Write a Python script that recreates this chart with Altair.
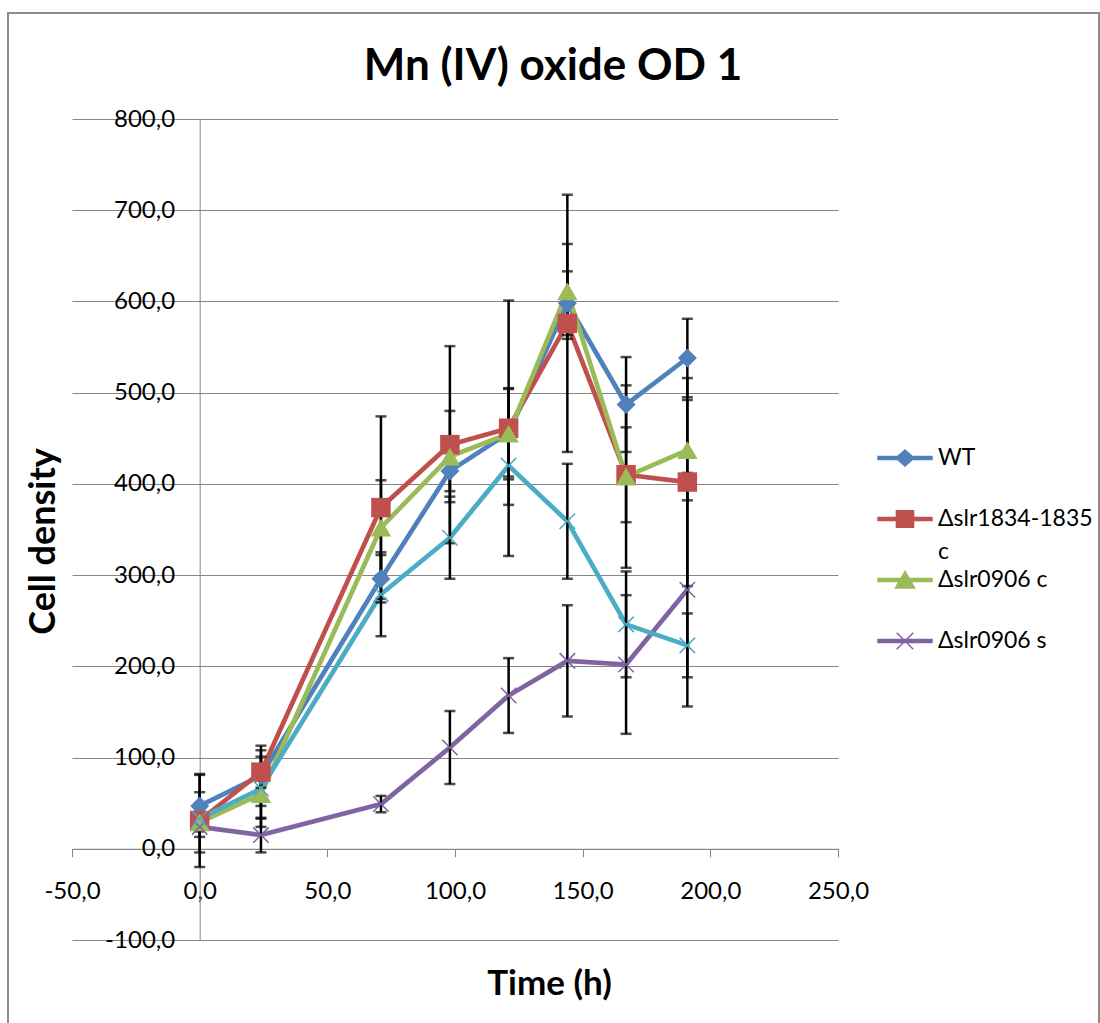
import altair as alt
import pandas as pd

# ---------------- data ----------------
times = [0, 24, 71, 98, 121, 144, 167, 191]

series_names = ["WT", "Δslr1834-1835 c", "Δslr0906 c", "Δslr0906 s", "Δslr1834-1835 s"]
series_colors = ["#4F81BD", "#C0504D", "#9BBB59", "#8064A2", "#4BACC6"]

wt_values = [47, 80, 296, 414, 456, 598, 487, 538]
wt_errors = [34, 33, 26, 22, 48, 35, 52, 43]

d1834c_values = [31, 84, 374, 443, 461, 576, 410, 402]
d1834c_errors = [51, 17, 100, 108, 140, 141, 52, 114]

d0906c_values = [29, 60, 352, 430, 455, 611, 408, 437]
d0906c_errors = [33, 27, 52, 50, 50, 52, 100, 55]

d0906s_values = [24, 15, 49, 111, 168, 206, 202, 284]
d0906s_errors = [5, 19, 9, 40, 41, 61, 76, 128]

d1834s_values = [33, 66, 279, 341, 420, 359, 246, 223]
d1834s_errors = [10, 42, 46, 45, 43, 63, 58, 35]

x_ticks = [-50, 0, 50, 100, 150, 200, 250]
y_ticks = [-100, 0, 100, 200, 300, 400, 500, 600, 700, 800]

legend_names = series_names[:4]
legend_colors = series_colors[:4]

# ---------------- table ----------------
all_values = [wt_values, d1834c_values, d0906c_values, d0906s_values, d1834s_values]
all_errors = [wt_errors, d1834c_errors, d0906c_errors, d0906s_errors, d1834s_errors]
rows = []
for name, vals, errs in zip(series_names, all_values, all_errors):
    for t, v, e in zip(times, vals, errs):
        rows.append({"series": name, "time": t, "value": v, "lo": v - e, "hi": v + e})
df = pd.DataFrame(rows)

# ---------------- styling ----------------
FONT = "Lato"
GRID = "#868686"
W, H = 766, 821
label_expr = "(datum.value < 0 ? '-' : '') + replace(format(abs(datum.value), '.1f'), '.', ',')"

x_scale = alt.Scale(domain=[-50, 250], nice=False, zero=False)
y_scale = alt.Scale(domain=[-100, 800], nice=False, zero=False)

x_axis = alt.Axis(
    values=x_ticks, labelExpr=label_expr, offset=-H * 100 / 900,
    domainColor=GRID, domainWidth=1, tickColor=GRID, tickWidth=1, tickSize=8,
    labelPadding=23, labelFont=FONT, labelFontSize=24, labelColor="black",
    labelFlush=False, labelOverlap=False, grid=False,
    title="Time (h)", titleFont=FONT, titleFontSize=35, titleFontWeight="bold",
    titleColor="black", titleX=477, titleY=146, titleAlign="center",
    titleBaseline="alphabetic",
)
y_axis = alt.Axis(
    values=y_ticks, labelExpr=label_expr, offset=-W * 50 / 300,
    domainColor=GRID, domainWidth=1, tickColor=GRID, tickWidth=1, tickSize=6,
    labelPadding=19, labelFont=FONT, labelFontSize=24, labelColor="black",
    labelFlush=False, labelOverlap=False,
    grid=True, gridColor=GRID, gridWidth=1,
    title="Cell density", titleFont=FONT, titleFontSize=36, titleFontWeight="bold",
    titleColor="black", titleX=-145, titleY=422, titleAngle=270, titleAlign="center",
    titleBaseline="alphabetic",
)

X = alt.X("time:Q", scale=x_scale, axis=x_axis)

base = alt.Chart(df)
layers = []

# lines
for name, col in zip(series_names, series_colors):
    layers.append(
        base.transform_filter(alt.datum.series == name)
        .mark_line(color=col, strokeWidth=4.7, strokeJoin="round", strokeCap="round")
        .encode(x=X, y=alt.Y("value:Q", scale=y_scale, axis=y_axis), order="time:Q")
    )

# error bars
layers.append(
    base.mark_rule(color="black", strokeWidth=2.5).encode(
        x=X, y=alt.Y("lo:Q", scale=y_scale, axis=y_axis), y2="hi:Q"
    )
)
for fld in ["hi", "lo"]:
    layers.append(
        base.mark_tick(color="black", orient="horizontal", size=11, thickness=2.5).encode(
            x=X, y=alt.Y(f"{fld}:Q", scale=y_scale, axis=y_axis)
        )
    )

# markers
X_PATH = "M-1,-1L1,1M-1,1L1,-1"
marker_specs = {
    "WT": dict(shape="diamond", size=361, filled=True),
    "Δslr1834-1835 c": dict(shape="square", size=380, filled=True),
    "Δslr0906 c": dict(shape="triangle-up", size=420, filled=True),
    "Δslr0906 s": dict(shape=X_PATH, size=240, filled=False, strokeWidth=1.5),
    "Δslr1834-1835 s": dict(shape=X_PATH, size=240, filled=False, strokeWidth=1.5),
}
for name, col in zip(series_names, series_colors):
    spec = marker_specs[name]
    layers.append(
        base.transform_filter(alt.datum.series == name)
        .mark_point(color=col, opacity=1, **spec)
        .encode(x=X, y=alt.Y("value:Q", scale=y_scale, axis=y_axis))
    )

# legend (line + marker symbols), carried by an invisible layer
BAR = "M-1.8,-0.1H1.8V0.1H-1.8Z"
legend_shapes = [
    BAR + "M0,-0.53L0.6,0L0,0.53L-0.6,0Z",
    BAR + "M-0.57,-0.55H0.57V0.55H-0.57Z",
    BAR + "M0,-0.57L0.64,0.53H-0.64Z",
    BAR + "M-0.55,-0.55L0.55,0.55M-0.55,0.55L0.55,-0.55",
]
leg = alt.Legend(
    orient="none", legendX=817, legendY=323, title=None, padding=0,
    labelExpr="datum.label == 'Δslr1834-1835 c' ? ['Δslr1834-1835', 'c'] : [datum.label, '']",
    symbolSize=900, symbolStrokeWidth=1.5, symbolOpacity=1,
    labelFont=FONT, labelFontSize=23, labelColor="black", labelOffset=17,
    labelLimit=400, rowPadding=0, direction="vertical",
)
legend_layer = (
    base.transform_filter(alt.FieldOneOfPredicate(field="series", oneOf=legend_names))
    .mark_point(filled=True, opacity=0, strokeWidth=1.5)
    .encode(
        x=X,
        y=alt.Y("value:Q", scale=y_scale, axis=y_axis),
        fill=alt.Fill("series:N", scale=alt.Scale(domain=legend_names, range=legend_colors), legend=leg),
        stroke=alt.Stroke("series:N", scale=alt.Scale(domain=legend_names, range=legend_colors), legend=leg),
        shape=alt.Shape("series:N", scale=alt.Scale(domain=legend_names, range=legend_shapes), legend=leg),
    )
)
layers.append(legend_layer)

# outer chart frame
frame = (
    alt.Chart(pd.DataFrame({"k": [0]}))
    .mark_rect(fillOpacity=0, stroke="#8c8c8c", strokeWidth=2)
    .encode(x=alt.value(-64), x2=alt.value(1027), y=alt.value(-106), y2=alt.value(930))
)
layers.append(frame)

chart = (
    alt.layer(*layers)
    .properties(
        width=W, height=H,
        title=alt.TitleParams(
            "Mn (IV) oxide OD 1", font=FONT, fontSize=44, fontWeight="bold",
            color="black", anchor="middle", dx=98, offset=0, dy=112, baseline="alphabetic",
        ),
        autosize=alt.AutoSizeParams(type="none"),
        padding={"left": 72, "top": 119, "right": 262, "bottom": 83},
        background="white",
    )
    .configure(style={"guide-label": {"lineHeight": 33}})
    .configure_view(stroke=None)
)

chart.save("out.html", embed_options={"renderer": "svg", "actions": False})
